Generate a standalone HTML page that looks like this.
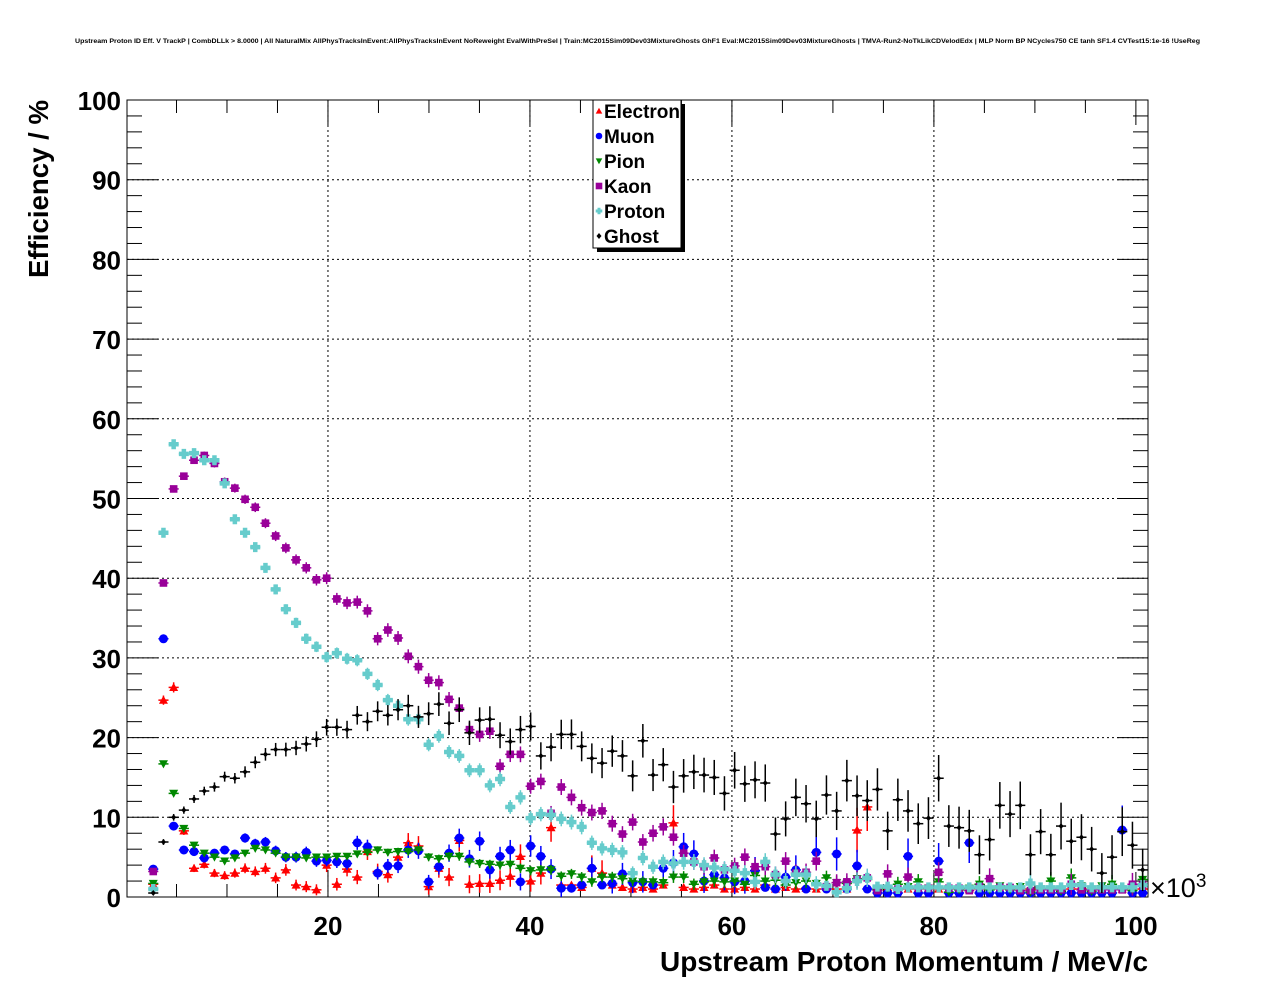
<!DOCTYPE html>
<html><head><meta charset="utf-8">
<style>
html,body{margin:0;padding:0;background:#fff;}
body{width:1276px;height:996px;overflow:hidden;font-family:"Liberation Sans",sans-serif;}
text{font-family:"Liberation Sans",sans-serif;}
</style></head>
<body>
<svg id="chart" width="1276" height="996" viewBox="0 0 1276 996" xmlns="http://www.w3.org/2000/svg">
<text x="75" y="43" font-size="6.5" font-weight="bold" textLength="1125" lengthAdjust="spacingAndGlyphs">Upstream Proton ID Eff. V TrackP | CombDLLk &gt; 8.0000 | All NaturalMix AllPhysTracksInEvent:AllPhysTracksInEvent NoReweight EvalWithPreSel | Train:MC2015Sim09Dev03MixtureGhosts GhF1 Eval:MC2015Sim09Dev03MixtureGhosts | TMVA-Run2-NoTkLikCDVelodEdx | MLP Norm BP NCycles750 CE tanh SF1.4 CVTest15:1e-16 !UseReg</text>
<g id="grid"></g>
<g id="axes"></g>
<g id="series"></g>
<text transform="translate(48,278) rotate(-90)" font-size="28" font-weight="bold" textLength="178" lengthAdjust="spacingAndGlyphs">Efficiency / %</text>
<text x="660" y="971" font-size="28" font-weight="bold" textLength="488" lengthAdjust="spacingAndGlyphs">Upstream Proton Momentum / MeV/c</text>
<text x="1150" y="897" font-size="27">×10<tspan dy="-10" font-size="19">3</tspan></text>
<g id="legend">
<rect x="597" y="104" width="88" height="148" fill="#000"/>
<rect x="593" y="100" width="88" height="148" fill="#fff" stroke="#000" stroke-width="1"/>
</g>
</svg>
<script>
const categories = Array.from({length:98},(_,k)=>+(2.7+1.01*k).toFixed(2));
const electron = [1.6,24.7,26.3,8.3,3.6,4.1,3,2.7,3,3.6,3.2,3.6,2.4,3.4,1.5,1.3,0.9,4,1.6,3.5,2.5,5.7,3.2,2.8,5,6.8,6.4,1.3,3.6,2.5,7.1,1.6,1.7,1.7,2.1,2.6,5.1,2,3,8.7,1.5,1.5,1.2,3.6,3,1.5,1.2,1,1.2,1,1.5,9.3,1.2,1,1.2,1.5,1,1,1.2,1,1.5,1,1.2,1,1.1,1,1.2,1,1,8.4,11.3,1,1.2,1,1,1,1,1,1,1,1,1,1,1,1,1,1,1,1,1,1,1,1,1,1,1,1,1];
const muon = [3.5,32.4,8.9,5.9,5.7,4.9,5.5,5.9,5.4,7.4,6.7,6.9,5.8,5,5,5.6,4.5,4.6,4.4,4.2,6.8,6.3,3,3.9,3.9,5.9,5.8,1.9,3.8,5.5,7.4,4.8,7,3.4,5.1,5.9,1.9,6.4,5.1,3.5,1.1,1.1,1.5,3.6,1.5,1.7,2.9,1.8,1.9,1.5,3.6,4.3,6.3,5.4,2,2.8,2.4,1.9,2,3.3,1.2,1,2.5,3.4,1,5.6,1,5.4,1,3.9,1,0.5,0.5,0.5,5.1,0.5,0.5,4.5,0.5,0.5,6.8,0.5,0.5,0.5,0.5,0.5,0.5,0.5,0.5,0.5,0.5,0.5,0.5,0.5,0.5,8.4,0.5,0.5];
const pion = [1.7,16.7,13,8.6,6.5,5.5,5,4.5,4.9,5.5,6.1,5.9,5.5,5,5,4.9,5,5,5.1,5.1,5.4,5.6,5.9,5.6,5.7,5.7,5.9,5,4.8,5.1,5.1,4.4,4.2,4.1,4,4.1,3.6,3.3,3.4,3.4,2.6,2.9,2.5,1.9,2.5,2.5,2.3,2,1.9,1.9,1.8,2.5,2.5,1.6,1.9,2,1.9,2,1.6,2.7,2,2.1,1.5,1.8,2,1.7,2.4,1.8,1.7,2.3,2.2,0.9,1.1,1.6,1.3,1.9,1.1,1.9,0.6,0.9,1.1,1.6,0.9,1.4,0.9,1.3,0.6,1,2,0.7,2.4,1.4,0.7,1.4,1.6,1,0.8,2.2];
const kaon = [3.2,39.4,51.2,52.8,54.8,55.4,54.4,52.1,51.3,49.9,48.9,46.9,45.3,43.8,42.3,41.3,39.8,40,37.4,36.9,37,35.9,32.4,33.5,32.5,30.2,28.9,27.2,26.9,24.8,23.7,21,20.4,20.8,16.4,17.9,17.9,13.9,14.5,10.5,13.8,12.5,11.2,10.6,10.8,9.2,7.9,9.4,6.9,8,8.8,7.5,5.5,4.4,3.8,4.9,3.4,3.9,5,3.8,3.8,2.8,4.5,3,3.1,4.5,1.3,1.8,1.9,2.2,2.4,0.8,2.9,1,2.5,1.1,1.1,3.1,1.1,1.1,0.8,1.3,2.3,1.2,1.2,0.8,0.8,0.9,0.9,0.9,1.6,0.9,0.9,0.9,0.9,0.9,1.6,1.5];
const proton = [1,45.7,56.8,55.6,55.7,54.8,54.8,51.9,47.4,45.7,43.9,41.3,38.6,36.1,34.4,32.4,31.4,30.1,30.6,29.9,29.7,28,26.6,24.7,24,22.3,22.3,19.1,20.2,18.2,17.7,15.9,15.9,14,14.8,11.3,12.5,9.9,10.4,10.3,9.8,9.4,8.8,6.8,6.1,5.9,5.6,3,4.9,3.8,4.4,4.2,4.4,4.4,4,3.7,3.5,3.3,3,1.9,4.4,2.8,2,2.8,2.8,1.6,1.4,0.6,1.1,2,2.4,1.3,1.3,1,1.2,1.2,1.2,1.2,1.2,1.2,1.2,1.2,1.2,1.2,1.2,1.2,1.7,1.2,1.2,1.2,1.5,1.5,1.2,1.2,1.2,1.2,1.2,1.5];
const ghost = [0.5,6.9,10,10.9,12.3,13.3,13.8,15.1,14.9,15.7,16.9,17.9,18.5,18.5,18.7,19.2,19.8,21.3,21.3,21,22.8,22,23.3,22.8,23.5,24,22.6,23,24.2,21.8,23.5,20.6,22.2,22.3,20.3,19.5,21,21.4,17.7,18.8,20.4,20.4,18.9,17.4,16.8,18.3,17.7,15.2,19.6,15.3,16.6,13.8,15.2,15.7,15.3,15,13,15.9,14.2,14.7,14.3,7.9,9.8,12.5,11.7,9.8,12.8,10.8,14.6,12.7,12.1,13.5,8.3,12.2,10.8,9.2,9.9,14.9,8.9,8.7,8.3,5.3,7.2,11.5,10.4,11.5,5.3,8.2,5.3,8.9,7,7.5,6,3,5,8.2,6.5,3.4];
const yTicks = [0,10,20,30,40,50,60,70,80,90,100];
const xTicks = [20,40,60,80,100];
const legendLabels = ["Electron","Muon","Pion","Kaon","Proton","Ghost"];

const NS="http://www.w3.org/2000/svg";
const X0=127,X1=1148,Y0=897,Y1=100,XMIN=0.1,XMAX=101.2,YMIN=0,YMAX=100;
const sx=v=>X0+(v-XMIN)/(XMAX-XMIN)*(X1-X0);
const sy=v=>Y0-(v-YMIN)/(YMAX-YMIN)*(Y0-Y1);
function mk(tag,attrs,parent){const e=document.createElementNS(NS,tag);for(const k in attrs)e.setAttribute(k,attrs[k]);parent.appendChild(e);return e;}
const grid=document.getElementById('grid'),axes=document.getElementById('axes'),ser=document.getElementById('series'),leg=document.getElementById('legend');

mk('rect',{x:X0,y:Y1,width:X1-X0,height:Y0-Y1,fill:'none',stroke:'#000','stroke-width':1},axes);
yTicks.forEach(v=>{
  if(v>0&&v<100){const g=mk('line',{x1:X0,x2:X1,y1:sy(v),y2:sy(v),stroke:'#000','stroke-dasharray':'2,3','stroke-width':1},grid);
  
  }
  const t=mk('text',{x:121,y:sy(v)+10,'font-size':26,'font-weight':'bold','text-anchor':'end'},axes);
  t.textContent=v;
  
  
});
for(let v=0;v<=100;v+=2){const L=v%10===0?31:15;
  mk('line',{x1:X0,x2:X0+L,y1:sy(v),y2:sy(v),stroke:'#000'},axes);
  mk('line',{x1:X1-L,x2:X1,y1:sy(v),y2:sy(v),stroke:'#000'},axes);}
for(let v=5;v<=100;v+=5){const L=v%20===0?25:13;
  mk('line',{x1:sx(v),x2:sx(v),y1:Y0,y2:Y0-L,stroke:'#000'},axes);
  mk('line',{x1:sx(v),x2:sx(v),y1:Y1,y2:Y1+L,stroke:'#000'},axes);}
xTicks.forEach(v=>{
  if(v<100){const g=mk('line',{x1:sx(v),x2:sx(v),y1:Y1,y2:Y0,stroke:'#000','stroke-dasharray':'2,3'},grid);
  
  }
  const t=mk('text',{x:sx(v),y:935,'font-size':26,'font-weight':'bold','text-anchor':'middle'},axes);
  t.textContent=v;
  
  
});

function marker(shape,cx,cy,col,s,parent){
  if(shape==='tu')return mk('polygon',{points:`${cx},${cy-s} ${cx-s},${cy+s*0.8} ${cx+s},${cy+s*0.8}`,fill:col},parent);
  if(shape==='td')return mk('polygon',{points:`${cx},${cy+s} ${cx-s},${cy-s*0.8} ${cx+s},${cy-s*0.8}`,fill:col},parent);
  if(shape==='c')return mk('circle',{cx:cx,cy:cy,r:s,fill:col},parent);
  if(shape==='sq')return mk('rect',{x:cx-s,y:cy-s,width:2*s,height:2*s,fill:col},parent);
  if(shape==='cr')return mk('path',{d:`M${cx-s},${cy}H${cx+s}M${cx},${cy-s}V${cy+s}`,stroke:col,'stroke-width':s*0.9},parent);
  return mk('polygon',{points:`${cx},${cy-3} ${cx+2.5},${cy} ${cx},${cy+3} ${cx-2.5},${cy}`,fill:col},parent);
}
const defs=[
 {name:'electron',vals:electron,col:'#ff0000',shape:'tu',s:4.5,e:0.6},
 {name:'muon',vals:muon,col:'#0000ff',shape:'c',s:4.5,e:0.5},
 {name:'pion',vals:pion,col:'#008800',shape:'td',s:4.5,e:0.25},
 {name:'kaon',vals:kaon,col:'#990099',shape:'sq',s:3.8,e:0.3},
 {name:'proton',vals:proton,col:'#66cccc',shape:'cr',s:5,e:0.3},
 {name:'ghost',vals:ghost,col:'#000000',shape:'d',s:3,e:0.5}
];
defs.forEach(d=>{
  const g=mk('g',{},ser);
  
  
  d.vals.forEach((v,k)=>{
    const x=categories[k],cx=sx(x),cy=sy(v);
    let err=d.e*(0.4+k/30)*(1+Math.sqrt(Math.max(v,0.5))/4);
    if(v<=1.5&&k>40)err=0.3;
    mk('line',{x1:sx(x-0.5),x2:sx(x+0.5),y1:cy,y2:cy,stroke:d.col,'stroke-width':1.5},g);
    mk('line',{x1:cx,x2:cx,y1:sy(Math.min(100,v+err)),y2:sy(Math.max(0,v-err)),stroke:d.col,'stroke-width':1.5},g);
    const m=marker(d.shape,cx,cy,d.col,d.s,g);
    
    
  });
});
defs.forEach((d,i)=>{
  const y=111+i*25;
  const m=marker(d.shape,599,y,d.col,d.shape==='d'?3:3.3,leg);
  
  
  const t=mk('text',{x:604,y:y+7,'font-size':19,'font-weight':'bold'},leg);
  t.textContent=legendLabels[i];
  
  
});
</script>
</body></html>
